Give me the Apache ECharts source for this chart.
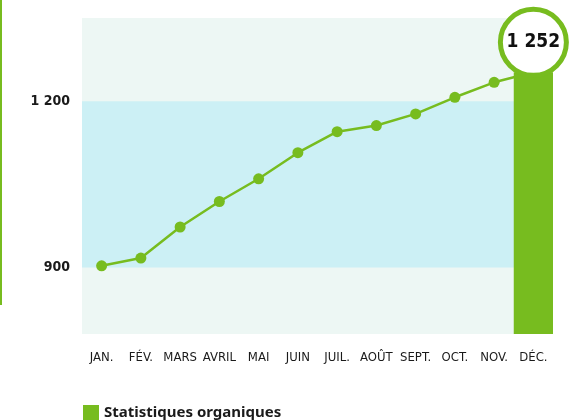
<!DOCTYPE html>
<html>
<head>
<meta charset="utf-8">
<script src="https://cdn.jsdelivr.net/npm/echarts@6/dist/echarts.min.js"></script>
<style>
  html, body { margin: 0; padding: 0; background: #fff; }
  #chart { width: 585px; height: 420px; }
</style>
</head>
<body>
<div id="chart"></div>
<script>
// data
var months = ['JAN.', 'FÉV.', 'MARS', 'AVRIL', 'MAI', 'JUIN', 'JUIL.', 'AOÛT', 'SEPT.', 'OCT.', 'NOV.', 'DÉC.'];
var values = [903, 917, 973, 1019, 1060, 1107, 1145, 1156, 1177, 1207, 1234, 1252];
var yTicks = [900, 1200];
var band = [900, 1200];
var seriesName = 'Statistiques organiques';

var green = '#77bc1f';
var cond = "'DejaVu Sans', sans-serif";
var last = values.length - 1;

function fmt(v) {
    return String(v).replace(/\B(?=(\d{3})+(?!\d))/g, ' ');
}

var onlyLast = values.map(function (v, i) { return i === last ? v : '-'; });

var chart = echarts.init(document.getElementById('chart'));
var option = {
    animation: false,
    grid: {
        left: 82, right: 32, top: 18, bottom: 86,
        show: true,
        borderWidth: 0,
        backgroundColor: '#edf7f4'
    },
    legend: {
        data: [seriesName],
        icon: 'rect',
        itemWidth: 16,
        itemHeight: 16,
        left: 78,
        top: 400,
        textStyle: {
            fontFamily: "'Noto Sans', sans-serif",
            fontWeight: 'bold',
            fontSize: 15,
            color: '#1a1a1a'
        }
    },
    graphic: [{
        type: 'rect',
        shape: { x: 0, y: 0, width: 2, height: 305 },
        style: { fill: green },
        silent: true
    }],
    xAxis: {
        type: 'category',
        data: months,
        axisLine: { show: false },
        axisTick: { show: false },
        axisLabel: {
            interval: 0,
            margin: 17,
            fontFamily: cond,
            fontWeight: 'normal condensed',
            fontSize: 13,
            color: '#1a1a1a'
        }
    },
    yAxis: {
        type: 'value',
        min: 780,
        max: 1350,
        splitLine: { show: false },
        axisLine: { show: false },
        axisTick: { show: false },
        axisLabel: {
            customValues: yTicks,
            margin: 12,
            formatter: fmt,
            fontFamily: cond,
            fontWeight: 'bold condensed',
            fontSize: 14,
            color: '#1a1a1a'
        }
    },
    series: [{
        name: seriesName,
        type: 'line',
        z: 2,
        data: values,
        symbol: 'circle',
        symbolSize: 11,
        color: green,
        lineStyle: { width: 2.5, color: green },
        itemStyle: { color: green },
        markArea: {
            silent: true,
            itemStyle: { color: '#ccf0f5' },
            data: [[{ yAxis: band[0] }, { yAxis: band[1] }]]
        }
    }, {
        name: 'bar',
        type: 'bar',
        z: 3,
        data: onlyLast,
        barWidth: '100%',
        itemStyle: { color: green }
    }, {
        name: 'total',
        type: 'scatter',
        z: 4,
        data: onlyLast,
        symbol: 'circle',
        symbolSize: 66,
        symbolOffset: [0, -30],
        itemStyle: { color: '#fff', borderColor: green, borderWidth: 5, opacity: 1 },
        label: {
            show: true,
            position: 'inside',
            formatter: function (p) { return fmt(p.value); },
            fontFamily: cond,
            fontWeight: 'bold condensed',
            fontSize: 19,
            color: '#111'
        }
    }]
};
chart.setOption(option);
</script>
</body>
</html>
